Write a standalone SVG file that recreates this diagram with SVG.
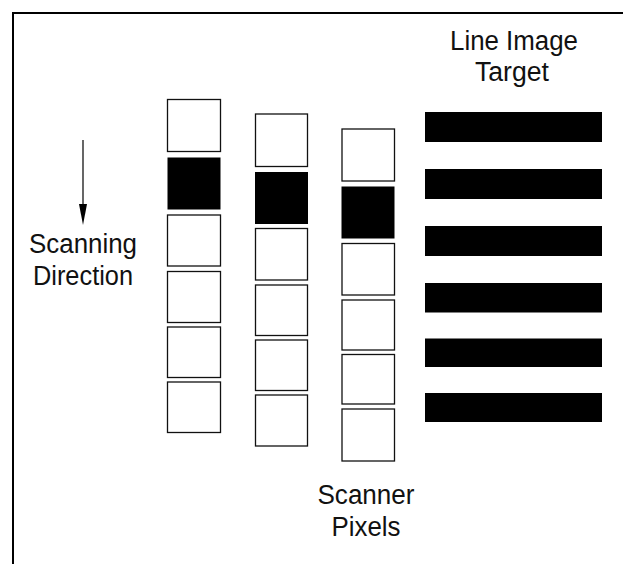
<svg xmlns="http://www.w3.org/2000/svg" width="623" height="564" viewBox="0 0 623 564">
<defs>
<style>
.lbl{font-family:"Liberation Sans",Arial,sans-serif;font-size:27px;fill:#111;text-anchor:middle}
.px{fill:#fff;stroke:#111;stroke-width:1.3}
.on{fill:#000;stroke:#000;stroke-width:1}
.bar{fill:#000}
.frame{stroke:#000;stroke-width:2;fill:none}
</style>
</defs>
<rect width="623" height="564" fill="#fff"/>
<path class="frame" d="M13,564 L13,13 L623,13"/>
<g id="connectors">
<line x1="83" y1="140" x2="83" y2="215" stroke="#000" stroke-width="1.2"/>
<path d="M79,204 L83,225 L87,204 Z" fill="#000"/>
</g>
<g id="label-scanning">
<text class="lbl" x="83" y="253" textLength="108" lengthAdjust="spacingAndGlyphs">Scanning</text>
<text class="lbl" x="83" y="285" textLength="100" lengthAdjust="spacingAndGlyphs">Direction</text>
</g>
<g id="label-target">
<text class="lbl" x="514" y="50" textLength="128" lengthAdjust="spacingAndGlyphs">Line Image</text>
<text class="lbl" x="512" y="81" textLength="74" lengthAdjust="spacingAndGlyphs">Target</text>
</g>
<g id="label-pixels">
<text class="lbl" x="366" y="504" textLength="97" lengthAdjust="spacingAndGlyphs">Scanner</text>
<text class="lbl" x="366" y="536" textLength="69" lengthAdjust="spacingAndGlyphs">Pixels</text>
</g>
<g id="column-1">
<rect class="px" x="167.5" y="99.5" width="53" height="52"/>
<rect class="on" x="168" y="158" width="52" height="51"/>
<rect class="px" x="167.5" y="215" width="53" height="51"/>
<rect class="px" x="167.5" y="271.5" width="53" height="51"/>
<rect class="px" x="167.5" y="327" width="53" height="50.5"/>
<rect class="px" x="167.5" y="382" width="53" height="50.5"/>
</g>
<g id="column-2">
<rect class="px" x="255.5" y="114" width="52" height="52.5"/>
<rect class="on" x="255.5" y="172.5" width="52" height="51"/>
<rect class="px" x="255.5" y="228.5" width="52" height="51.5"/>
<rect class="px" x="255.5" y="285" width="52" height="50.5"/>
<rect class="px" x="255.5" y="340" width="52" height="50.5"/>
<rect class="px" x="255.5" y="395" width="52" height="51"/>
</g>
<g id="column-3">
<rect class="px" x="342" y="129" width="52.5" height="52"/>
<rect class="on" x="342" y="187" width="52" height="51"/>
<rect class="px" x="342" y="243.5" width="52.5" height="51.5"/>
<rect class="px" x="342" y="300" width="52.5" height="50"/>
<rect class="px" x="342" y="354.5" width="52.5" height="49.5"/>
<rect class="px" x="342" y="409" width="52.5" height="52"/>
</g>
<g id="line-image-target">
<rect class="bar" x="425" y="112" width="177" height="30"/>
<rect class="bar" x="425" y="169" width="177" height="30"/>
<rect class="bar" x="425" y="226" width="177" height="30"/>
<rect class="bar" x="425" y="283" width="177" height="29.5"/>
<rect class="bar" x="425" y="338.5" width="177" height="28.5"/>
<rect class="bar" x="425" y="393" width="177" height="29"/>
</g>
</svg>
